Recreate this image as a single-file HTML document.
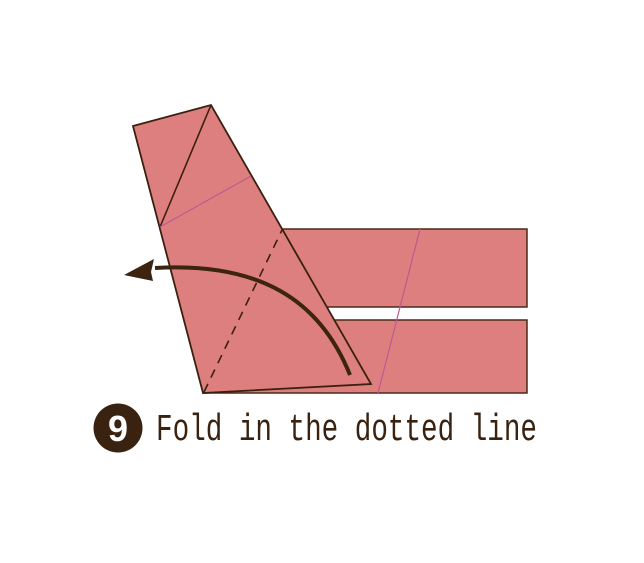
<!DOCTYPE html>
<html><head><meta charset="utf-8"><style>
html,body{margin:0;padding:0;background:#fff;width:644px;height:563px;overflow:hidden}
svg{display:block}
</style></head><body>
<svg width="644" height="563" viewBox="0 0 644 563">
  <g>
    <rect x="203" y="320" width="324" height="73" fill="#de7f7f" stroke="#4a2a1a" stroke-width="1.5"/>
  </g>
  <g>
    <rect x="283" y="229" width="244" height="78" fill="#de7f7f" stroke="#4a2a1a" stroke-width="1.5"/>
  </g>
  <line x1="420" y1="229" x2="378" y2="393" stroke="#c0588f" stroke-width="1.2"/>
  <polygon points="133,126 211,105 371,384 203,393" fill="#de7f7f" stroke="#3a2010" stroke-width="1.8"/>
  <line x1="211" y1="105" x2="160" y2="227" stroke="#3a2010" stroke-width="1.6"/>
  <line x1="160" y1="227" x2="251" y2="176" stroke="#c0588f" stroke-width="1.2"/>
  <line x1="204" y1="392" x2="282" y2="230" stroke="#3a2010" stroke-width="1.6" stroke-dasharray="9,7"/>
  <path d="M350,375 C320,300 260,262 155,268" fill="none" stroke="#3d2410" stroke-width="4"/>
  <polygon points="124,275 154,259 151,272 153,281" fill="#3d2410"/>
  <circle cx="118" cy="428" r="24.5" fill="#3a2210"/>
  <text x="118" y="441" text-anchor="middle" font-family="Liberation Sans, sans-serif" font-weight="bold" font-size="36" fill="#fff">9</text>
  <text x="156" y="440" font-family="Liberation Mono, monospace" font-size="38" fill="#3a2210" textLength="381" lengthAdjust="spacingAndGlyphs">Fold in the dotted line</text>
</svg>
</body></html>
